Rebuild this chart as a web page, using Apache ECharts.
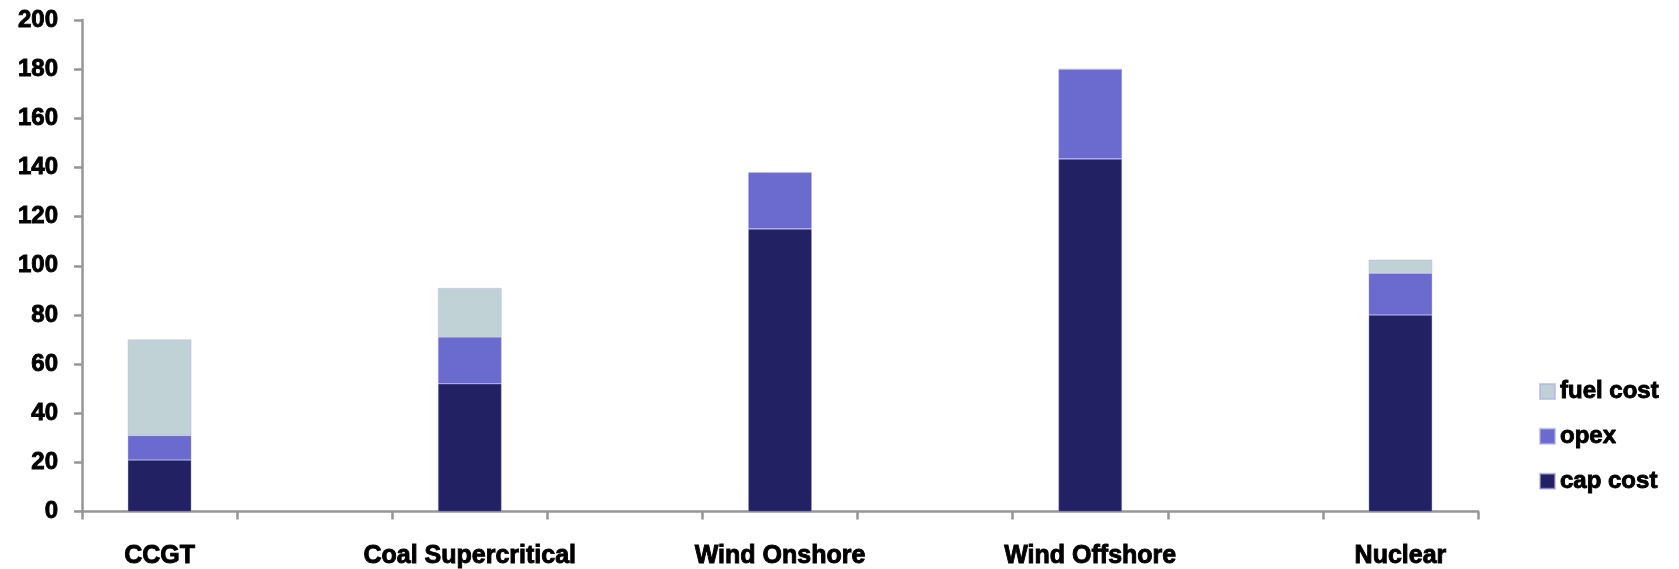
<!DOCTYPE html>
<html>
<head>
<meta charset="utf-8">
<title>Generation cost by technology</title>
<script src="https://cdn.jsdelivr.net/npm/echarts@6/dist/echarts.min.js"></script>
<style>
  html, body { margin: 0; padding: 0; background: #ffffff; }
  #chart { width: 1679px; height: 569px; }
</style>
</head>
<body>
<div id="chart"></div>
<script>
// Technologies and their cost components
const technologies = ['CCGT', 'Coal Supercritical', 'Wind Onshore', 'Wind Offshore', 'Nuclear'];
const capCost  = [21, 52, 115, 143.5, 80];
const opex     = [10, 19, 23, 36.5, 17];
const fuelCost = [39, 20, 0, 0, 5.5];
const yTicks = [0, 20, 40, 60, 80, 100, 120, 140, 160, 180, 200];

// Each technology is followed by an empty slot on the category axis
function withGaps(values, filler) {
  const out = [];
  values.forEach((v, i) => {
    out.push(v);
    if (i < values.length - 1) out.push(filler);
  });
  return out;
}

const slots = withGaps(technologies, '');
const colors = { cap: '#212163', opex: '#6b6bcf', fuel: '#c0d2d6' };
const labelFont = '"Liberation Sans", Arial, sans-serif';

// Heavy black text shared by axes and legend
function heavyText(size) {
  return {
    color: '#000',
    fontSize: size,
    fontWeight: 'bold',
    fontFamily: labelFont,
    textBorderColor: '#000',
    textBorderWidth: 0.9
  };
}

const chart = echarts.init(document.getElementById('chart'), null, { renderer: 'canvas' });

function barSeries(name, values, color) {
  return {
    name: name,
    type: 'bar',
    stack: 'cost',
    barWidth: '41%',
    data: withGaps(values, null),
    itemStyle: { color: color, borderColor: 'rgba(170,170,235,0.6)', borderWidth: 0.6 },
    emphasis: { disabled: true }
  };
}

chart.setOption({
  animation: false,
  backgroundColor: '#ffffff',
  grid: { left: 82, right: 201, top: 20, bottom: 54, containLabel: false },
  legend: {
    orient: 'vertical',
    left: 1534,
    top: 374,
    itemWidth: 15,
    itemHeight: 15,
    itemGap: 20,
    icon: 'rect',
    data: ['fuel cost', 'opex', 'cap cost'],
    textStyle: heavyText(24),
    selectedMode: false
  },
  xAxis: {
    type: 'category',
    data: slots,
    boundaryGap: true,
    axisLine: { show: true, lineStyle: { color: '#969696', width: 2.5 } },
    axisTick: { show: true, interval: 0, length: 8, lineStyle: { color: '#969696', width: 2.5 } },
    axisLabel: Object.assign({ interval: 0, margin: 32 }, heavyText(25)),
    splitLine: { show: false }
  },
  yAxis: {
    type: 'value',
    min: yTicks[0],
    max: yTicks[yTicks.length - 1],
    interval: yTicks[1] - yTicks[0],
    axisLine: { show: true, lineStyle: { color: '#969696', width: 2.5 } },
    axisTick: { show: true, length: 8, lineStyle: { color: '#969696', width: 2.5 } },
    axisLabel: Object.assign({ margin: 24 }, heavyText(24)),
    splitLine: { show: false }
  },
  series: [
    barSeries('cap cost', capCost, colors.cap),
    barSeries('opex', opex, colors.opex),
    barSeries('fuel cost', fuelCost, colors.fuel)
  ]
});
</script>
</body>
</html>
